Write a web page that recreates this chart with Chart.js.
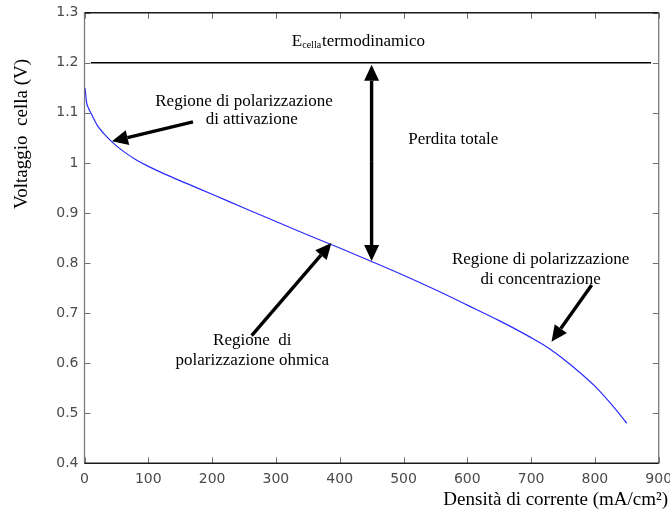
<!DOCTYPE html>
<html>
<head>
<meta charset="utf-8">
<script src="https://cdn.jsdelivr.net/npm/chart.js@4.4.0/dist/chart.umd.min.js"></script>
<style>
  html, body { margin: 0; padding: 0; background: #ffffff; }
  #wrap { width: 670px; height: 515px; }
</style>
</head>
<body>
<div id="wrap"><canvas id="chart" width="670" height="515"></canvas></div>
<script>
// Polarization curve: current density (mA/cm²) vs cell voltage (V)
const currentDensity = [1, 3, 6, 11, 20, 30, 43, 60, 80, 100, 125, 160, 200, 250, 300, 350, 400, 450, 500, 550, 600, 650, 700, 730, 750, 775, 800, 825, 850];
const cellVoltage    = [1.149, 1.123, 1.110, 1.097, 1.075, 1.059, 1.042, 1.024, 1.007, 0.993, 0.978, 0.959, 0.9375, 0.910, 0.883, 0.856, 0.830, 0.803, 0.7755, 0.7465, 0.716, 0.685, 0.651, 0.628, 0.609, 0.583, 0.554, 0.519, 0.480];

// Thermodynamic cell voltage line
const thermoVoltage = 1.2;
const thermoSpan = [10, 888];

// Axis ranges and tick steps
const xRange = [0, 900];
const yRange = [0.4, 1.3];
const xStep = 100;
const yStep = 0.1;

// Annotation arrows [tail, tip] in data units
const arrowActivation    = [[170, 1.082], [43, 1.043]];
const arrowOhmic         = [[262, 0.655], [387, 0.840]];
const arrowConcentration = [[795, 0.756], [732, 0.643]];
const totalLossAt = 450;
const totalLossEnds = [1.2, 0.804];

// Annotation texts: [text, x, y]
const notes = [
  ['Regione di polarizzazione', 250, 1.122],
  ['di attivazione', 262, 1.086],
  ['Perdita totale', 578, 1.046],
  ['Regione  di', 263, 0.646],
  ['polarizzazione ohmica', 263, 0.606],
  ['Regione di polarizzazione', 715, 0.8075],
  ['di concentrazione', 715, 0.7664]
];
const thermoLabel = ['E', 'cella', 'termodinamico'];
const thermoLabelPos = [325, 1.242];

const xTitle = 'Densità di corrente (mA/cm²)';
const yTitle = 'Voltaggio  cella (V)';

const curve = currentDensity.map((x, i) => ({ x: x, y: cellVoltage[i] }));
const thermoLine = thermoSpan.map(x => ({ x: x, y: thermoVoltage }));

const SERIF = '"Liberation Serif", "Times New Roman", serif';

function drawArrow(ctx, x1, y1, x2, y2, headLen, headHalf, width) {
  const ang = Math.atan2(y2 - y1, x2 - x1);
  const bx = x2 - headLen * Math.cos(ang);
  const by = y2 - headLen * Math.sin(ang);
  ctx.beginPath();
  ctx.lineWidth = width;
  ctx.moveTo(x1, y1);
  ctx.lineTo(bx, by);
  ctx.stroke();
  ctx.beginPath();
  ctx.moveTo(x2, y2);
  ctx.lineTo(bx + headHalf * Math.sin(ang), by - headHalf * Math.cos(ang));
  ctx.lineTo(bx - headHalf * Math.sin(ang), by + headHalf * Math.cos(ang));
  ctx.closePath();
  ctx.fill();
}

// Axes box with inward ticks on all four sides, plus annotations
const framePlugin = {
  id: 'frame',
  afterDatasetsDraw(chart) {
    const ctx = chart.ctx;
    const xs = chart.scales.x, ys = chart.scales.y;
    const a = chart.chartArea;
    const tick = 6;
    ctx.save();

    // ticks
    ctx.lineWidth = 1;
    ctx.strokeStyle = '#707070';
    xs.ticks.forEach(t => {
      const px = Math.round(xs.getPixelForValue(t.value)) + 0.5;
      ctx.beginPath();
      ctx.moveTo(px, a.bottom); ctx.lineTo(px, a.bottom - tick);
      ctx.moveTo(px, a.top); ctx.lineTo(px, a.top + tick);
      ctx.stroke();
    });
    ys.ticks.forEach(t => {
      const py = Math.round(ys.getPixelForValue(t.value)) + 0.5;
      ctx.beginPath();
      ctx.moveTo(a.left, py); ctx.lineTo(a.left + tick, py);
      ctx.moveTo(a.right, py); ctx.lineTo(a.right - tick, py);
      ctx.stroke();
    });

    // box
    ctx.strokeStyle = '#7a7a7a';
    ctx.lineWidth = 1.3;
    ctx.beginPath();
    ctx.moveTo(a.left, a.top); ctx.lineTo(a.left, a.bottom);
    ctx.moveTo(a.right, a.top); ctx.lineTo(a.right, a.bottom);
    ctx.stroke();
    ctx.strokeStyle = '#1a1a1a';
    ctx.lineWidth = 1.5;
    ctx.beginPath();
    ctx.moveTo(a.left, a.top); ctx.lineTo(a.right, a.top);
    ctx.moveTo(a.left, a.bottom); ctx.lineTo(a.right, a.bottom);
    ctx.stroke();

    // arrows
    ctx.fillStyle = '#000';
    ctx.strokeStyle = '#000';
    [arrowActivation, arrowOhmic, arrowConcentration].forEach(ar => {
      drawArrow(ctx,
        xs.getPixelForValue(ar[0][0]), ys.getPixelForValue(ar[0][1]),
        xs.getPixelForValue(ar[1][0]), ys.getPixelForValue(ar[1][1]),
        16, 7.5, 3.4);
    });
    const vx = xs.getPixelForValue(totalLossAt);
    const vTop = ys.getPixelForValue(totalLossEnds[0]);
    const vBot = ys.getPixelForValue(totalLossEnds[1]);
    const vMid = (vTop + vBot) / 2;
    drawArrow(ctx, vx, vMid, vx, vTop + 2, 16, 7.5, 3.4);
    drawArrow(ctx, vx, vMid, vx, vBot, 16, 7.5, 3.4);

    // annotation texts
    ctx.fillStyle = '#000';
    ctx.textAlign = 'center';
    ctx.textBaseline = 'middle';
    ctx.font = '17px ' + SERIF;
    notes.forEach(n => {
      ctx.fillText(n[0], xs.getPixelForValue(n[1]), ys.getPixelForValue(n[2]));
    });

    // E_cella termodinamico
    let tx = xs.getPixelForValue(thermoLabelPos[0]);
    const ty = ys.getPixelForValue(thermoLabelPos[1]);
    ctx.textAlign = 'left';
    ctx.font = '17px ' + SERIF;
    ctx.fillText(thermoLabel[0], tx, ty);
    tx += ctx.measureText(thermoLabel[0]).width;
    ctx.font = '10px ' + SERIF;
    ctx.fillText(thermoLabel[1], tx, ty + 4);
    tx += ctx.measureText(thermoLabel[1]).width + 1;
    ctx.font = '17px ' + SERIF;
    ctx.fillText(thermoLabel[2], tx, ty);

    // axis titles
    ctx.font = '19px ' + SERIF;
    ctx.textAlign = 'right';
    ctx.fillText(xTitle, 668, 500);
    ctx.save();
    ctx.translate(22, 134);
    ctx.rotate(-Math.PI / 2);
    ctx.textAlign = 'center';
    ctx.fillText(yTitle, 0, 0);
    ctx.restore();

    ctx.restore();
  }
};

const tickFont = { family: '"DejaVu Sans", sans-serif', size: 14 };
const tickLabel = v => String(Number(v.toFixed(1)));

new Chart(document.getElementById('chart'), {
  type: 'line',
  data: {
    datasets: [
      {
        data: curve,
        borderColor: '#2a2aff',
        borderWidth: 1.2,
        pointRadius: 0,
        fill: false,
        cubicInterpolationMode: 'monotone'
      },
      {
        data: thermoLine,
        borderColor: '#000000',
        borderWidth: 1.6,
        pointRadius: 0,
        fill: false
      }
    ]
  },
  options: {
    responsive: false,
    animation: false,
    events: [],
    layout: { padding: { top: 12.7, right: 11.3, left: 0, bottom: 0 } },
    plugins: {
      legend: { display: false },
      tooltip: { enabled: false }
    },
    scales: {
      x: {
        type: 'linear',
        min: xRange[0],
        max: xRange[1],
        grid: { display: false, drawTicks: false },
        border: { display: false },
        ticks: { stepSize: xStep, font: tickFont, color: '#4a4a4a', padding: 8, maxRotation: 0, callback: tickLabel },
        afterFit: s => { s.height = 51.7; s.paddingLeft = 0; s.paddingRight = 0; }
      },
      y: {
        type: 'linear',
        min: yRange[0],
        max: yRange[1],
        grid: { display: false, drawTicks: false },
        border: { display: false },
        ticks: { stepSize: yStep, font: tickFont, color: '#4a4a4a', padding: 6, callback: tickLabel },
        afterFit: s => { s.width = 84.5; s.paddingTop = 0; s.paddingBottom = 0; }
      }
    }
  },
  plugins: [framePlugin]
});
</script>
</body>
</html>
